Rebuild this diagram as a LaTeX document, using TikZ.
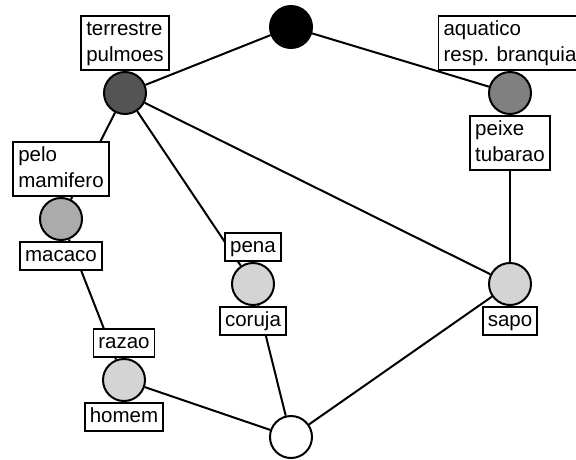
\documentclass[tikz,border=0pt]{standalone}
\usepackage{fontspec}
\setmainfont{Liberation Sans}
\usetikzlibrary{positioning}

\begin{document}
\begin{tikzpicture}[x=1pt,y=-1pt,line width=2pt,
    concept/.style={circle,draw,minimum size=42pt,inner sep=0pt},
    lbl/.style={draw,fill=white,line width=1.6pt,inner xsep=5pt,inner ysep=1pt,
      align=left,font=\fontsize{20.5}{26}\selectfont}]
  \useasboundingbox (0,0) rectangle (576,459);
  \node[concept,fill=black] (top) at (291,27) {};
  \node[concept,fill=black!67] (terr) at (125,93) {};
  \node[concept,fill=black!50] (aqua) at (510,93) {};
  \node[concept,fill=black!33] (pelo) at (61,219) {};
  \node[concept,fill=black!17] (pena) at (253,284) {};
  \node[concept,fill=black!17] (sapo) at (510,284) {};
  \node[concept,fill=black!17] (razao) at (124,380) {};
  \node[concept,fill=white] (bot) at (291,437) {};
  \draw (top) -- (terr);
  \draw (top) -- (aqua);
  \draw (terr) -- (pelo);
  \draw (terr) -- (pena);
  \draw (terr) -- (sapo);
  \draw (aqua) -- (sapo);
  \draw (pelo) -- (razao);
  \draw (razao) -- (bot);
  \draw (pena) -- (bot);
  \draw (sapo) -- (bot);
  \node[lbl,above=0pt of terr] (terrA) {terrestre\strut\\pulmoes\strut};
  \node[lbl,above=0pt of aqua] (aquaA) {aquatico\strut\\resp. branquia\strut};
  \node[lbl,below=0pt of aqua] (aquaB) {peixe\strut\\tubarao\strut};
  \node[lbl,above=0pt of pelo] (peloA) {pelo\strut\\mamifero\strut};
  \node[lbl,below=0pt of pelo] (peloB) {macaco\strut};
  \node[lbl,above=0pt of pena] (penaA) {pena\strut};
  \node[lbl,below=0pt of pena] (penaB) {coruja\strut};
  \node[lbl,below=0pt of sapo] (sapoB) {sapo\strut};
  \node[lbl,above=0pt of razao] (razaoA) {razao\strut};
  \node[lbl,below=0pt of razao] (razaoB) {homem\strut};
\end{tikzpicture}
\end{document}
